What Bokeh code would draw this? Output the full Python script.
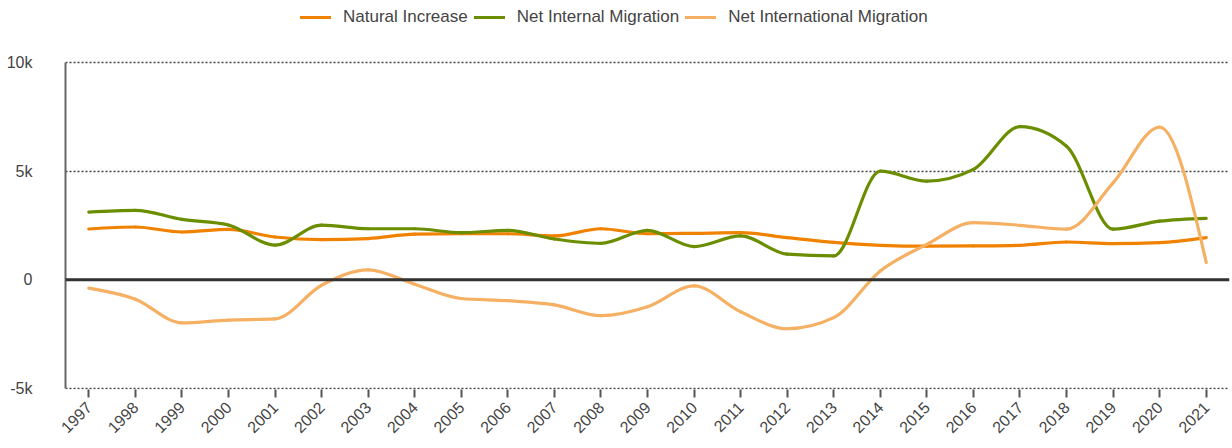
import numpy as np
from bokeh.plotting import figure
from bokeh.models import (Range1d, FixedTicker, NumeralTickFormatter, Span, Legend,
                          LegendItem, ColumnDataSource, PrintfTickFormatter)
from bokeh.embed import file_html
from bokeh.resources import INLINE

years = list(range(1997, 2022))
natural_increase = [2340, 2430, 2200, 2320, 1970, 1850, 1900, 2100, 2120, 2120, 2020,
                    2350, 2120, 2140, 2170, 1940, 1720, 1590, 1550, 1560, 1590,
                    1740, 1670, 1710, 1940]
net_internal = [3120, 3200, 2780, 2520, 1600, 2520, 2350, 2350, 2170, 2280, 1880,
                1680, 2280, 1530, 2020, 1180, 1100, 5000, 4540, 5080, 7050,
                6150, 2330, 2700, 2830]
net_international = [-380, -890, -1980, -1850, -1800, -250, 460, -200, -860, -960, -1150,
                     -1650, -1240, -280, -1470, -2250, -1740, 410, 1630, 2630, 2510,
                     2330, 4460, 7030, 800]

series_names = ["Natural Increase", "Net Internal Migration", "Net International Migration"]
series_colors = ["#F08200", "#6B8E00", "#F5B063"]
series_values = [natural_increase, net_internal, net_international]

y_ticks = [-5000, 0, 5000, 10000]


def monotone_bezier(xs, ys):
    """Monotone-X cubic (as in d3.curveMonotoneX) expressed as Bezier control points."""
    x = np.asarray(xs, float)
    y = np.asarray(ys, float)
    n = len(x)
    h = np.diff(x)
    s = np.diff(y) / h
    t = np.zeros(n)
    for i in range(1, n - 1):
        s0, s1 = s[i - 1], s[i]
        p_ = (s0 * h[i] + s1 * h[i - 1]) / (h[i - 1] + h[i])
        t[i] = (np.sign(s0) + np.sign(s1)) * min(abs(s0), abs(s1), 0.5 * abs(p_))
    t[0] = (3 * s[0] - t[1]) / 2
    t[-1] = (3 * s[-1] - t[-2]) / 2
    dx = h / 3.0
    return dict(x0=x[:-1], y0=y[:-1], x1=x[1:], y1=y[1:],
                cx0=x[:-1] + dx, cy0=y[:-1] + dx * t[:-1],
                cx1=x[1:] - dx, cy1=y[1:] - dx * t[1:])


# frame spans the full height above the x axis; the y axis itself is bounded to -5k..10k
p = figure(width=1232, height=448, output_backend="svg", toolbar_location=None,
           x_range=Range1d(years[0] - 0.5, years[-1] + 0.5),
           y_range=Range1d(-5046, 12853),
           min_border_left=65, min_border_right=3, min_border_top=0, min_border_bottom=59)

p.outline_line_color = None
p.background_fill_color = "white"
p.border_fill_color = "white"

# grid
p.xgrid.grid_line_color = None
p.ygrid.ticker = FixedTicker(ticks=y_ticks)
p.ygrid.grid_line_color = "#444444"
p.ygrid.grid_line_dash = "2 2"
p.ygrid.grid_line_width = 1.6

zero = Span(location=0, dimension="width", line_color="#333333", line_width=3)
p.add_layout(zero)

# axes
p.yaxis.ticker = FixedTicker(ticks=y_ticks)
p.yaxis.bounds = (y_ticks[0], y_ticks[-1])
p.yaxis.formatter = NumeralTickFormatter(format="0a")
p.yaxis.axis_line_color = "#666666"
p.yaxis.axis_line_width = 2
p.yaxis.major_tick_line_color = None
p.yaxis.minor_tick_line_color = None
p.yaxis.major_label_text_font = "Liberation Sans"
p.yaxis.major_label_text_font_size = "16px"
p.yaxis.major_label_text_color = "#444444"
p.yaxis.major_label_standoff = 27

p.xaxis.ticker = FixedTicker(ticks=years)
p.xaxis.formatter = PrintfTickFormatter(format="%d")
p.xaxis.axis_line_color = None
p.xaxis.major_tick_line_color = "#555555"
p.xaxis.major_tick_line_width = 2
p.xaxis.major_tick_out = 8
p.xaxis.major_tick_in = 0
p.xaxis.minor_tick_line_color = None
p.xaxis.major_label_orientation = np.pi / 4
p.xaxis.major_label_text_font = "Liberation Sans"
p.xaxis.major_label_text_font_size = "16px"
p.xaxis.major_label_text_color = "#444444"
p.xaxis.major_label_standoff = 7

items = []
for name, color, vals in zip(series_names, series_colors, series_values):
    src = ColumnDataSource(monotone_bezier(years, vals))
    r = p.bezier(x0="x0", y0="y0", x1="x1", y1="y1", cx0="cx0", cy0="cy0", cx1="cx1", cy1="cy1",
                 source=src, line_color=color, line_width=3.2, line_cap="round")
    items.append(LegendItem(label=name, renderers=[r], index=0))

legend = Legend(items=items, orientation="horizontal", location=(235, 362),
                label_text_font="Liberation Sans", label_text_font_size="17px",
                label_text_color="#444444", glyph_width=31, glyph_height=16,
                label_standoff=12, spacing=6, border_line_color=None,
                background_fill_alpha=0, padding=0, margin=0)
p.add_layout(legend, "center")

open("out.html", "w").write(file_html(p, INLINE))
